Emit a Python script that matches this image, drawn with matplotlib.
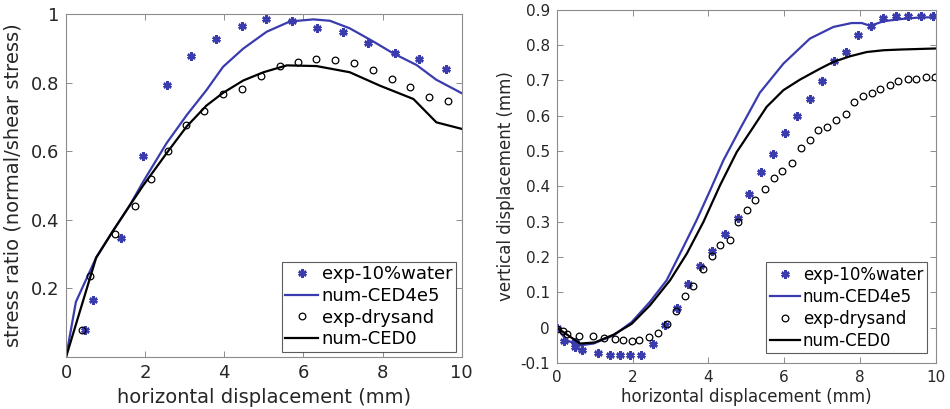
import matplotlib
matplotlib.use('Agg')
import matplotlib.pyplot as plt

# stress ratio vs horizontal displacement
water_x = [0.48, 0.69, 1.38, 1.94, 2.54, 3.16, 3.78, 4.45, 5.05, 5.71, 6.35, 6.99, 7.63, 8.31, 8.92, 9.60]
water_y = [0.079, 0.166, 0.346, 0.586, 0.793, 0.876, 0.927, 0.965, 0.985, 0.980, 0.958, 0.946, 0.914, 0.885, 0.870, 0.840]
dry_x = [0.40, 0.61, 1.25, 1.74, 2.16, 2.58, 3.03, 3.48, 3.96, 4.45, 4.92, 5.40, 5.87, 6.33, 6.81, 7.28, 7.76, 8.24, 8.70, 9.17, 9.65]
dry_y = [0.079, 0.236, 0.360, 0.440, 0.519, 0.600, 0.676, 0.717, 0.766, 0.780, 0.818, 0.849, 0.861, 0.870, 0.866, 0.856, 0.837, 0.810, 0.786, 0.759, 0.746]
ced4_x = [0.0, 0.25, 0.77, 1.2, 1.6, 1.95, 2.54, 3.05, 3.55, 3.97, 4.48, 5.07, 5.66, 6.25, 6.67, 7.17, 7.76, 8.27, 8.86, 9.36, 10.0]
ced4_y = [0.0, 0.161, 0.292, 0.37, 0.44, 0.511, 0.623, 0.705, 0.778, 0.846, 0.899, 0.948, 0.978, 0.984, 0.980, 0.958, 0.920, 0.885, 0.851, 0.808, 0.769]
ced0_x = [0.0, 0.76, 1.2, 1.6, 1.95, 2.58, 3.05, 3.55, 3.97, 4.48, 4.99, 5.58, 6.33, 7.17, 7.93, 8.78, 9.36, 10.0]
ced0_y = [0.0, 0.289, 0.37, 0.44, 0.50, 0.600, 0.672, 0.733, 0.770, 0.806, 0.830, 0.850, 0.848, 0.830, 0.791, 0.752, 0.684, 0.665]

# vertical vs horizontal displacement
v_water_x = [0.02, 0.19, 0.48, 0.48, 0.68, 1.10, 1.41, 1.67, 1.93, 2.22, 2.53, 2.86, 3.17, 3.47, 3.78, 4.11, 4.44, 4.78,
             5.08, 5.38, 5.70, 6.02, 6.34, 6.68, 6.99, 7.32, 7.63, 7.96, 8.29, 8.60, 8.94, 9.28, 9.60, 9.94]
v_water_y = [0.0, -0.039, -0.042, -0.055, -0.062, -0.071, -0.078, -0.078, -0.078, -0.078, -0.045, 0.007, 0.057, 0.123,
             0.174, 0.216, 0.264, 0.310, 0.377, 0.440, 0.490, 0.551, 0.598, 0.647, 0.697, 0.755, 0.780, 0.829, 0.854,
             0.875, 0.881, 0.881, 0.882, 0.882]
v_dry_x = [0.0, 0.17, 0.28, 0.60, 0.95, 1.25, 1.54, 1.76, 1.98, 2.18, 2.44, 2.66, 2.90, 3.14, 3.39, 3.60, 3.85, 4.09,
           4.31, 4.57, 4.79, 5.01, 5.23, 5.50, 5.73, 5.95, 6.21, 6.44, 6.67, 6.89, 7.12, 7.37, 7.62, 7.85, 8.09, 8.31,
           8.53, 8.78, 9.01, 9.26, 9.48, 9.73, 9.98]
v_dry_y = [-0.003, -0.010, -0.019, -0.024, -0.024, -0.029, -0.033, -0.036, -0.039, -0.036, -0.026, -0.015, 0.009,
           0.047, 0.089, 0.117, 0.165, 0.202, 0.233, 0.249, 0.299, 0.332, 0.360, 0.392, 0.423, 0.443, 0.467, 0.508,
           0.532, 0.558, 0.568, 0.587, 0.606, 0.639, 0.655, 0.665, 0.674, 0.686, 0.698, 0.703, 0.705, 0.708, 0.709]
v_ced4_x = [0.0, 0.26, 0.62, 0.97, 1.5, 1.98, 2.46, 2.90, 3.34, 3.69, 4.05, 4.40, 4.84, 5.36, 5.98, 6.68, 7.30, 7.78,
            8.05, 8.27, 8.62, 9.06, 9.59, 10.0]
v_ced4_y = [0.0, -0.036, -0.050, -0.045, -0.022, 0.016, 0.073, 0.134, 0.228, 0.304, 0.389, 0.474, 0.563, 0.665,
            0.747, 0.818, 0.851, 0.862, 0.862, 0.854, 0.867, 0.873, 0.878, 0.878]
v_ced0_x = [0.0, 0.62, 1.0, 1.5, 1.98, 2.46, 2.99, 3.43, 3.87, 4.31, 4.75, 5.19, 5.54, 5.98, 6.42, 6.95, 7.30, 7.74,
            8.18, 8.62, 9.06, 10.0]
v_ced0_y = [0.0, -0.045, -0.042, -0.020, 0.011, 0.063, 0.134, 0.209, 0.299, 0.403, 0.497, 0.568, 0.625, 0.672,
            0.702, 0.733, 0.752, 0.768, 0.780, 0.785, 0.787, 0.790]

labels = ['exp-10%water', 'num-CED4e5', 'exp-drysand', 'num-CED0']
blue = '#3a3cad'
text_col = '#262626'
spine_col = '#8c8c8c'
asterisk = (6, 2, 0)

plt.rcParams['font.family'] = 'DejaVu Sans'

fig = plt.figure(figsize=(9.5, 4.09), dpi=100)
ax1 = fig.add_axes([0.0695, 0.127, 0.4165, 0.839])
ax2 = fig.add_axes([0.586, 0.1125, 0.399, 0.864])


def style_axes(ax, tick_size):
    for s in ax.spines.values():
        s.set_color(spine_col)
        s.set_linewidth(0.8)
    ax.tick_params(direction='in', top=True, right=True, length=4, width=0.7,
                   color=spine_col, labelsize=tick_size, labelcolor=text_col, pad=5)


def draw(ax, wx, wy, c4x, c4y, dx, dy, c0x, c0y):
    ax.plot(wx, wy, ls='none', marker=asterisk, color=blue, ms=6, mew=1.8, label=labels[0])
    ax.plot(c4x, c4y, '-', color=blue, lw=1.6, label=labels[1])
    ax.plot(dx, dy, 'o', mfc='none', mec='black', ms=4.8, mew=0.9, label=labels[2])
    ax.plot(c0x, c0y, '-', color='black', lw=1.6, label=labels[3])


draw(ax1, water_x, water_y, ced4_x, ced4_y, dry_x, dry_y, ced0_x, ced0_y)
ax1.set_xlim(0, 10)
ax1.set_ylim(0, 1)
ax1.set_xticks([0, 2, 4, 6, 8, 10])
ax1.set_yticks([0.2, 0.4, 0.6, 0.8, 1])
ax1.set_yticklabels(['0.2', '0.4', '0.6', '0.8', '1'])
style_axes(ax1, 13)
ax1.set_xlabel('horizontal displacement (mm)', fontsize=14, color=text_col, labelpad=4)
ax1.set_ylabel('stress ratio (normal/shear stress)', fontsize=14, color=text_col, labelpad=6)
leg1 = ax1.legend(loc='lower right', bbox_to_anchor=(0.985, 0.015), fontsize=13, frameon=True,
                  fancybox=False, handlelength=1.8, handletextpad=0.2, labelspacing=0.2,
                  borderpad=0.2, borderaxespad=0)
leg1.get_frame().set_edgecolor('#333333')
leg1.get_frame().set_linewidth(0.8)

draw(ax2, v_water_x, v_water_y, v_ced4_x, v_ced4_y, v_dry_x, v_dry_y, v_ced0_x, v_ced0_y)
ax2.set_xlim(0, 10)
ax2.set_ylim(-0.1, 0.9)
ax2.set_xticks([0, 2, 4, 6, 8, 10])
ax2.set_yticks([-0.1, 0, 0.1, 0.2, 0.3, 0.4, 0.5, 0.6, 0.7, 0.8, 0.9])
ax2.set_yticklabels(['-0.1', '0', '0.1', '0.2', '0.3', '0.4', '0.5', '0.6', '0.7', '0.8', '0.9'])
style_axes(ax2, 11)
ax2.set_xlabel('horizontal displacement (mm)', fontsize=12, color=text_col, labelpad=2)
ax2.set_ylabel('vertical displacement (mm)', fontsize=12, color=text_col, labelpad=4)
leg2 = ax2.legend(loc='lower right', bbox_to_anchor=(0.976, 0.027), fontsize=12, frameon=True,
                  fancybox=False, handlelength=1.8, handletextpad=0.2, labelspacing=0.25,
                  borderpad=0.2, borderaxespad=0)
leg2.get_frame().set_edgecolor('#333333')
leg2.get_frame().set_linewidth(0.8)

fig.savefig('out.png', dpi=100)
